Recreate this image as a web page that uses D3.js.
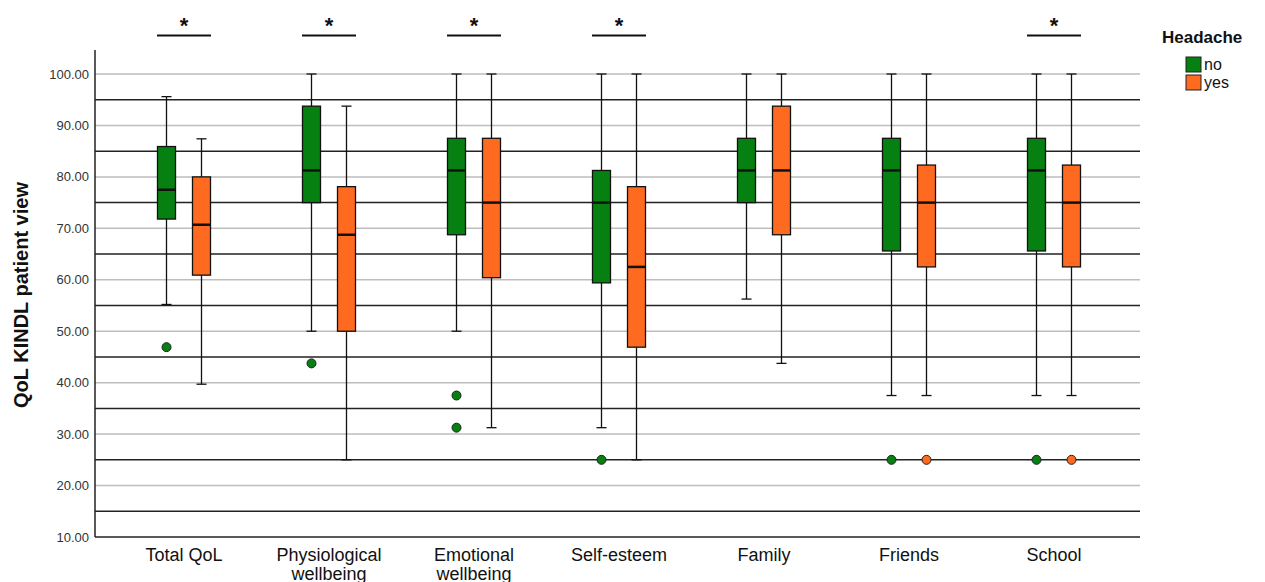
<!DOCTYPE html>
<html lang="en">
<head>
    <meta charset="UTF-8">
    <title>QoL KINDL by headache</title>
    <script src="https://d3js.org/d3.v7.min.js"></script>
    <style>
        body { margin: 0; background: #fff; }
        text { font-family: "Liberation Sans", Arial, sans-serif; }
        .tick-label { font-size: 13px; fill: #333; text-anchor: end; }
        .cat-label { font-size: 18px; fill: #111; text-anchor: middle; }
        .grid { stroke: #bdbdbd; stroke-width: 1.5; }
        .ref { stroke: #222; stroke-width: 1.5; }
        .whisker { stroke: #111; stroke-width: 1.3; }
        .box { stroke: #111; stroke-width: 1.3; }
        .median { stroke: #111; stroke-width: 2.5; }
    </style>
</head>
<body>
<script>
    const width = 1265;
    const height = 582;

    const categories = ["Total QoL", "Physiological wellbeing", "Emotional wellbeing", "Self-esteem", "Family", "Friends", "School"];
    const groups = ["no", "yes"];
    const colors = ["#068010", "#ff6a21"];

    // [lower whisker, q1, median, q3, upper whisker]
    const noStats = [
        [55.2, 71.8, 77.5, 85.9, 95.6],
        [50, 75, 81.25, 93.75, 100],
        [50, 68.75, 81.25, 87.5, 100],
        [31.25, 59.4, 75, 81.25, 100],
        [56.25, 75, 81.25, 87.5, 100],
        [37.5, 65.6, 81.25, 87.5, 100],
        [37.5, 65.6, 81.25, 87.5, 100]
    ];
    const yesStats = [
        [39.7, 60.9, 70.7, 80, 87.4],
        [25, 50, 68.75, 78.1, 93.75],
        [31.25, 60.4, 75, 87.5, 100],
        [25, 46.9, 62.5, 78.1, 100],
        [43.75, 68.75, 81.25, 93.75, 100],
        [37.5, 62.5, 75, 82.3, 100],
        [37.5, 62.5, 75, 82.3, 100]
    ];
    const noOutliers = [[46.9], [43.75], [37.5, 31.25], [25], [], [25], [25]];
    const yesOutliers = [[], [], [], [], [], [25], [25]];
    const significant = ["Total QoL", "Physiological wellbeing", "Emotional wellbeing", "Self-esteem", "School"];

    const yTicks = d3.range(10, 101, 10);
    const refLines = d3.range(15, 96, 10);

    const svg = d3.select("body").append("svg").attr("width", width).attr("height", height);

    const y = d3.scaleLinear().domain([10, 100]).range([537, 74]);
    const x = d3.scaleBand().domain(categories).range([111.5, 1126.5]);
    const offset = d3.scaleOrdinal().domain(groups).range([-17.5, 17.5]);
    const color = d3.scaleOrdinal().domain(groups).range(colors);
    const axisLeft = 95, axisRight = 1140, axisTop = 50;
    const boxW = 18, capW = 10;

    // grid + reference lines
    svg.append("g").selectAll("line").data(yTicks.slice(1)).enter().append("line")
        .attr("class", "grid")
        .attr("x1", axisLeft).attr("x2", axisRight)
        .attr("y1", d => y(d)).attr("y2", d => y(d));
    svg.append("g").selectAll("line").data(refLines).enter().append("line")
        .attr("class", "ref")
        .attr("x1", axisLeft).attr("x2", axisRight)
        .attr("y1", d => y(d)).attr("y2", d => y(d));

    // axes
    svg.append("line").attr("x1", axisLeft).attr("x2", axisLeft).attr("y1", axisTop).attr("y2", y(10))
        .attr("stroke", "#222").attr("stroke-width", 1.5);
    svg.append("line").attr("x1", axisLeft).attr("x2", axisRight).attr("y1", y(10)).attr("y2", y(10))
        .attr("stroke", "#222").attr("stroke-width", 1.5);

    svg.append("g").selectAll("text").data(yTicks).enter().append("text")
        .attr("class", "tick-label")
        .attr("x", axisLeft - 6).attr("y", d => y(d) + 4.5)
        .text(d => d3.format(".2f")(d));

    svg.append("text")
        .attr("transform", "translate(28,295) rotate(-90)")
        .attr("text-anchor", "middle")
        .style("font-size", "20px").style("font-weight", "bold").attr("fill", "#111")
        .text("QoL KINDL patient view");

    // category labels
    const catLabels = svg.append("g").selectAll("text").data(categories).enter().append("text")
        .attr("class", "cat-label")
        .attr("x", d => x(d) + x.bandwidth() / 2)
        .attr("y", 561);
    catLabels.each(function(d) {
        const words = d.split(" ");
        const t = d3.select(this);
        if (d.endsWith("wellbeing")) {
            t.append("tspan").attr("x", x(d) + x.bandwidth() / 2).text(words[0]);
            t.append("tspan").attr("x", x(d) + x.bandwidth() / 2).attr("dy", 19).text(words[1]);
        } else {
            t.text(d);
        }
    });

    // boxes
    const series = [
        {g: "no", stats: noStats, out: noOutliers},
        {g: "yes", stats: yesStats, out: yesOutliers}
    ];
    series.forEach(s => {
        const gr = svg.append("g");
        categories.forEach((c, i) => {
            const st = s.stats[i];
            const cx = x(c) + x.bandwidth() / 2 + offset(s.g);
            gr.append("line").attr("class", "whisker")
                .attr("x1", cx).attr("x2", cx).attr("y1", y(st[0])).attr("y2", y(st[4]));
            [st[0], st[4]].forEach(v => {
                gr.append("line").attr("class", "whisker")
                    .attr("x1", cx - capW / 2).attr("x2", cx + capW / 2)
                    .attr("y1", y(v)).attr("y2", y(v));
            });
            gr.append("rect").attr("class", "box")
                .attr("x", cx - boxW / 2).attr("width", boxW)
                .attr("y", y(st[3])).attr("height", y(st[1]) - y(st[3]))
                .attr("fill", color(s.g));
            gr.append("line").attr("class", "median")
                .attr("x1", cx - boxW / 2).attr("x2", cx + boxW / 2)
                .attr("y1", y(st[2])).attr("y2", y(st[2]));
            s.out[i].forEach(v => {
                gr.append("circle").attr("cx", cx).attr("cy", y(v)).attr("r", 4.5)
                    .attr("fill", color(s.g)).attr("stroke", "#222").attr("stroke-width", 1);
            });
        });
    });

    // significance markers
    const sig = svg.append("g").selectAll("g").data(significant).enter().append("g");
    sig.append("line")
        .attr("x1", d => x(d) + x.bandwidth() / 2 - 27)
        .attr("x2", d => x(d) + x.bandwidth() / 2 + 27)
        .attr("y1", 35.5).attr("y2", 35.5)
        .attr("stroke", "#111").attr("stroke-width", 2);
    sig.append("text")
        .attr("x", d => x(d) + x.bandwidth() / 2)
        .attr("y", 33)
        .attr("text-anchor", "middle")
        .style("font-size", "22px").style("font-weight", "bold").attr("fill", "#111")
        .text("*");

    // legend
    const legend = svg.append("g").attr("transform", "translate(1162,0)");
    legend.append("text").attr("x", 0).attr("y", 43)
        .style("font-size", "17px").style("font-weight", "bold").attr("fill", "#111")
        .text("Headache");
    legend.selectAll("g.item").data(groups).enter().append("g").attr("class", "item")
        .each(function(d, i) {
            const it = d3.select(this);
            it.append("rect").attr("x", 24).attr("y", 57 + i * 18).attr("width", 15).attr("height", 15)
                .attr("fill", color(d)).attr("stroke", "#222").attr("stroke-width", 1);
            it.append("text").attr("x", 42).attr("y", 70 + i * 18)
                .style("font-size", "16px").attr("fill", "#111").text(d);
        });
</script>
</body>
</html>
